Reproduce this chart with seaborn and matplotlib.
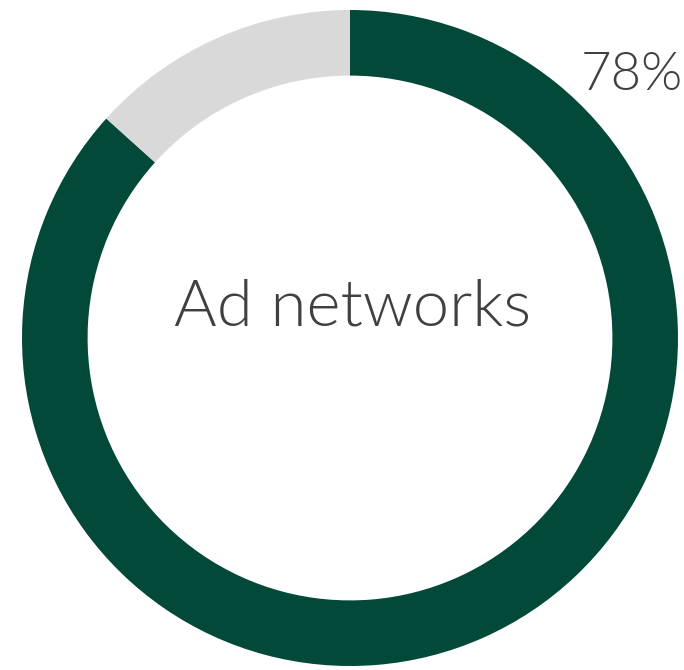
import matplotlib
matplotlib.use("Agg")
import matplotlib.pyplot as plt
import seaborn as sns

# Donut data: share for ad networks and the remaining slice
labels = ["Ad networks", "Other"]
values = [78, 12]
colors = ["#02493a", "#d9d9d9"]
pct_label = "78%"
center_label = "Ad networks"

sns.set_theme(style="white")
plt.rcParams["font.family"] = ["Lato", "DejaVu Sans"]

W, H = 684, 670
fig = plt.figure(figsize=(W / 100, H / 100), dpi=100)
ax = fig.add_axes([0, 0, 1, 1])

cx, cy, r = 350, H - 338, 328
ax.pie(values, colors=colors, startangle=90, counterclock=False,
       center=(cx, cy), radius=r, frame=True,
       wedgeprops=dict(width=r * 0.2, linewidth=0))
ax.set_xlim(0, W)
ax.set_ylim(0, H)
ax.set_aspect("equal")
ax.axis("off")

ax.text(cx + 3, H - 308, center_label, ha="center", va="center",
        fontsize=47, color="#404040", fontweight=300)
ax.text(683, H - 76, pct_label, ha="right", va="center",
        fontsize=38, color="#404040", fontweight=300)

fig.savefig("out.png", dpi=100)
